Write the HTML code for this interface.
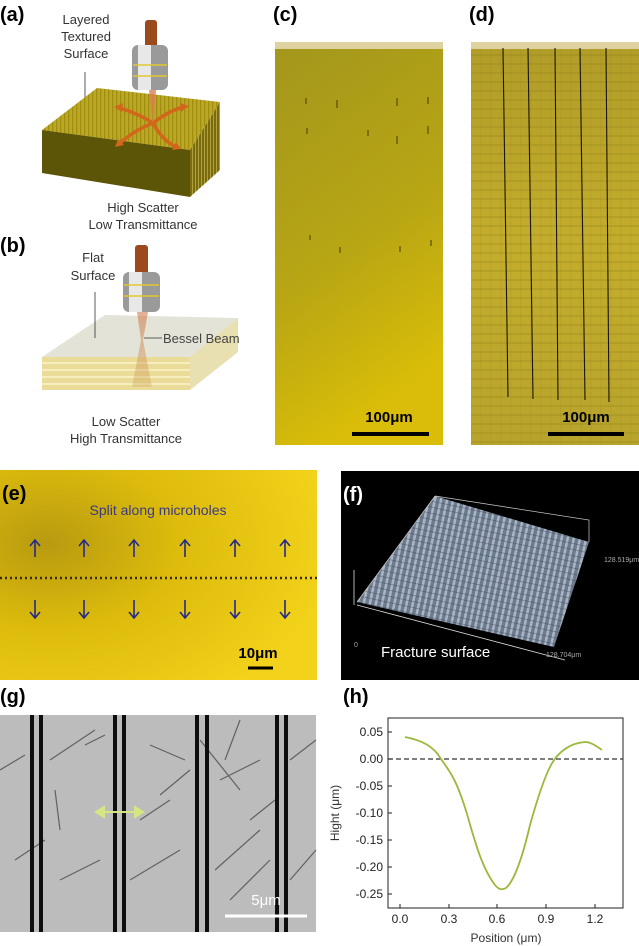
<!DOCTYPE html>
<html><head><meta charset="utf-8"><style>
html,body{margin:0;padding:0;background:#fff;width:639px;height:946px;overflow:hidden}
svg{display:block}
text{font-family:"Liberation Sans",Arial,sans-serif}
</style></head><body>
<svg width="639" height="946" viewBox="0 0 639 946" xmlns="http://www.w3.org/2000/svg">
<defs>
<linearGradient id="cg" x1="0" y1="0" x2="0.3" y2="1"><stop offset="0" stop-color="#a3961c"/><stop offset="0.6" stop-color="#b8a614"/><stop offset="1" stop-color="#d9bd08"/></linearGradient>
<linearGradient id="dg" x1="0" y1="0" x2="0" y2="1"><stop offset="0" stop-color="#b09c28"/><stop offset="0.5" stop-color="#c4ad2c"/><stop offset="1" stop-color="#b8a42c"/></linearGradient>
<pattern id="dstripe" width="10" height="9" patternUnits="userSpaceOnUse"><rect width="10" height="9" fill="none"/><rect y="0" width="10" height="2" fill="#8a7a10" opacity="0.22"/><rect x="0" width="1.5" height="9" fill="#8a7a10" opacity="0.1"/></pattern>
<radialGradient id="eg" cx="0.15" cy="0.35" r="0.9"><stop offset="0" stop-color="#b89a10"/><stop offset="0.45" stop-color="#dcbb0c"/><stop offset="1" stop-color="#f2d21a"/></radialGradient>
<pattern id="fstripe" width="6" height="6" patternUnits="userSpaceOnUse" patternTransform="rotate(12)"><rect width="6" height="6" fill="#6d7b8f"/><rect width="2.5" height="6" fill="#aab6c6"/><rect y="4" width="6" height="0.8" fill="#3c4450" opacity="0.5"/></pattern>
<pattern id="astripe" width="4" height="4" patternUnits="userSpaceOnUse"><rect width="4" height="4" fill="#bda824"/><rect width="1.3" height="4" fill="#a08e12"/></pattern>
<pattern id="rstripe" width="3" height="4" patternUnits="userSpaceOnUse"><rect width="3" height="4" fill="#7a6c0c"/><rect width="1" height="4" fill="#b0a040"/></pattern>
<linearGradient id="beam" x1="0" y1="0" x2="0" y2="1"><stop offset="0" stop-color="#d07850"/><stop offset="1" stop-color="#c89a50" stop-opacity="0.5"/></linearGradient>
</defs>

<!-- (a) -->
<text x="0" y="21" font-size="20" font-weight="bold">(a)</text>
<text x="86" y="24" font-size="13" text-anchor="middle" fill="#333">Layered</text>
<text x="86" y="41" font-size="13" text-anchor="middle" fill="#333">Textured</text>
<text x="86" y="58" font-size="13" text-anchor="middle" fill="#333">Surface</text>
<line x1="85" y1="72" x2="85" y2="112" stroke="#333" stroke-width="0.8"/>
<polygon points="42,130 97,88 220,102 190,150" fill="url(#astripe)"/>
<polygon points="42,130 190,150 190,197 42,173" fill="#5c5406"/>
<polygon points="190,150 220,102 220,170 190,197" fill="url(#rstripe)"/>
<path d="M153,123 Q135,112 119,108 M153,123 Q170,110 184,107 M153,123 Q135,130 120,143 M153,123 Q162,140 176,147" stroke="#d2661a" stroke-width="3.5" fill="none"/>
<polygon points="114,107 123,103 122,112" fill="#d2661a"/><polygon points="189,106 180,103 181,112" fill="#d2661a"/>
<polygon points="115,147 118,139 124,145" fill="#d2661a"/><polygon points="181,149 172,150 176,142" fill="#d2661a"/>
<polygon points="149,90 156,90 153,125" fill="#d88050" opacity="0.8"/>
<rect x="145" y="20" width="12" height="35" fill="#9a4a1c" rx="3"/>
<rect x="132" y="45" width="36" height="45" rx="6" fill="#9a9a9a"/>
<rect x="138" y="45" width="13" height="45" fill="#e8e8e8"/>
<line x1="133" y1="65" x2="167" y2="65" stroke="#e2c830" stroke-width="1.5"/>
<line x1="133" y1="76" x2="167" y2="76" stroke="#e2c830" stroke-width="1.5"/>
<text x="143" y="212" font-size="13" text-anchor="middle" fill="#333">High Scatter</text>
<text x="143" y="229" font-size="13" text-anchor="middle" fill="#333">Low Transmittance</text>

<!-- (b) -->
<text x="0" y="252" font-size="20" font-weight="bold">(b)</text>
<text x="93" y="262" font-size="13" text-anchor="middle" fill="#333">Flat</text>
<text x="93" y="280" font-size="13" text-anchor="middle" fill="#333">Surface</text>
<polygon points="42,357 105,315 238,318 190,357" fill="#deded0" opacity="0.85"/>
<polygon points="190,357 238,318 238,352 190,390" fill="#e8e0b0"/>
<rect x="42" y="357" width="148" height="33" fill="#eadc98"/>
<g stroke="#fff8d8" stroke-width="1.2"><line x1="42" y1="363" x2="190" y2="363"/><line x1="42" y1="370" x2="190" y2="370"/><line x1="42" y1="377" x2="190" y2="377"/><line x1="42" y1="384" x2="190" y2="384"/></g>
<line x1="95" y1="292" x2="95" y2="338" stroke="#333" stroke-width="0.8"/>
<polygon points="137,312 148,312 143,340 152,387 132,387 141,340" fill="url(#beam)" opacity="0.6"/>
<line x1="144" y1="338" x2="162" y2="338" stroke="#333" stroke-width="0.8"/>
<text x="163" y="343" font-size="13" fill="#444">Bessel Beam</text>
<rect x="135" y="245" width="13" height="32" fill="#9a4a1c" rx="3"/>
<rect x="123" y="272" width="37" height="40" rx="6" fill="#9a9a9a"/>
<rect x="129" y="272" width="13" height="40" fill="#e8e8e8"/>
<line x1="124" y1="285" x2="159" y2="285" stroke="#e2c830" stroke-width="1.5"/>
<line x1="124" y1="296" x2="159" y2="296" stroke="#e2c830" stroke-width="1.5"/>
<text x="126" y="426" font-size="13" text-anchor="middle" fill="#333">Low Scatter</text>
<text x="126" y="443" font-size="13" text-anchor="middle" fill="#333">High Transmittance</text>

<!-- (c) -->
<text x="273" y="21" font-size="20" font-weight="bold">(c)</text>
<rect x="275" y="42" width="168" height="403" fill="url(#cg)"/>
<rect x="275" y="42" width="168" height="7" fill="#ddd2a0"/>
<g stroke="#5a4e08" stroke-width="1.2">
<line x1="306" y1="98" x2="306" y2="104"/><line x1="337" y1="100" x2="337" y2="108"/><line x1="397" y1="98" x2="397" y2="106"/><line x1="428" y1="97" x2="428" y2="104"/>
<line x1="307" y1="128" x2="307" y2="134"/><line x1="368" y1="130" x2="368" y2="136"/><line x1="397" y1="136" x2="397" y2="144"/><line x1="428" y1="126" x2="428" y2="134"/>
<line x1="310" y1="235" x2="310" y2="240"/><line x1="340" y1="247" x2="340" y2="253"/><line x1="400" y1="246" x2="400" y2="252"/><line x1="431" y1="240" x2="431" y2="246"/>
</g>
<line x1="352" y1="434" x2="429" y2="434" stroke="#000" stroke-width="4"/>
<text x="389" y="422" font-size="15" font-weight="bold" text-anchor="middle">100μm</text>

<!-- (d) -->
<text x="469" y="21" font-size="20" font-weight="bold">(d)</text>
<rect x="471" y="42" width="168" height="403" fill="url(#dg)"/>
<rect x="471" y="50" width="168" height="395" fill="url(#dstripe)"/>
<rect x="471" y="42" width="168" height="7" fill="#ddd2a0"/>
<g stroke="#1a1600" stroke-width="1.1">
<line x1="503" y1="48" x2="508" y2="397"/><line x1="528" y1="48" x2="533" y2="399"/><line x1="555" y1="48" x2="558" y2="400"/><line x1="580" y1="48" x2="585" y2="400"/><line x1="606" y1="48" x2="609" y2="402"/>
</g>
<line x1="548" y1="434" x2="624" y2="434" stroke="#000" stroke-width="4"/>
<text x="586" y="422" font-size="15" font-weight="bold" text-anchor="middle">100μm</text>

<!-- (e) -->
<rect x="0" y="470" width="317" height="210" fill="url(#eg)"/>
<text x="2" y="500" font-size="20" font-weight="bold">(e)</text>
<text x="158" y="515" font-size="14" text-anchor="middle" fill="#3a3a80">Split along microholes</text>
<line x1="0" y1="578" x2="317" y2="578" stroke="#3a2e00" stroke-width="2.5" stroke-dasharray="2,3"/>
<g stroke="#222a90" stroke-width="1.6" fill="none">
<path d="M35,557 V540 M30,546 L35,540 L40,546"/><path d="M84,557 V540 M79,546 L84,540 L89,546"/><path d="M134,557 V540 M129,546 L134,540 L139,546"/><path d="M185,557 V540 M180,546 L185,540 L190,546"/><path d="M235,557 V540 M230,546 L235,540 L240,546"/><path d="M285,557 V540 M280,546 L285,540 L290,546"/>
<path d="M35,600 V618 M30,612 L35,618 L40,612"/><path d="M84,600 V618 M79,612 L84,618 L89,612"/><path d="M134,600 V618 M129,612 L134,618 L139,612"/><path d="M185,600 V618 M180,612 L185,618 L190,612"/><path d="M235,600 V618 M230,612 L235,618 L240,612"/><path d="M285,600 V618 M280,612 L285,618 L290,612"/>
</g>
<text x="258" y="658" font-size="15" font-weight="bold" text-anchor="middle">10μm</text>
<line x1="248" y1="668" x2="273" y2="668" stroke="#000" stroke-width="3"/>

<!-- (f) -->
<rect x="341" y="471" width="298" height="209" fill="#000"/>
<text x="343" y="501" font-size="20" font-weight="bold" fill="#fff">(f)</text>
<polygon points="435,496 589,542 554,647 357,602" fill="url(#fstripe)"/>
<polyline points="435,496 589,520 589,542" fill="none" stroke="#ccc" stroke-width="0.7"/>
<line x1="357" y1="602" x2="435" y2="496" stroke="#ccc" stroke-width="0.7"/>
<line x1="354" y1="605" x2="354" y2="570" stroke="#ddd" stroke-width="0.8"/>
<line x1="357" y1="605" x2="565" y2="660" stroke="#ddd" stroke-width="0.8"/>
<text x="354" y="647" font-size="7" fill="#aaa">0</text>
<text x="604" y="562" font-size="7" fill="#aaa">128.519μm</text>
<text x="546" y="657" font-size="7" fill="#aaa">128.704μm</text>
<text x="381" y="657" font-size="15" fill="#fff">Fracture surface</text>

<!-- (g) -->
<text x="0" y="703" font-size="20" font-weight="bold">(g)</text>
<rect x="0" y="715" width="316" height="217" fill="#bcbcbc"/>
<g stroke="#3a3a3a" stroke-width="1.2" fill="none" opacity="0.7">
<path d="M0,770 L25,755 M50,760 L95,730 M85,745 L105,735 M150,745 L185,760 M160,795 L190,770 M130,880 L180,850 M200,740 L240,790 M220,780 L260,760 M215,870 L260,830 M230,900 L270,860 M290,760 L316,740 M250,820 L275,800 M60,880 L100,860 M15,860 L45,840 M140,820 L170,800 M290,880 L316,850 M55,790 L60,830 M225,760 L240,720"/>
</g>
<g fill="#0e0e0e">
<rect x="30" y="715" width="4" height="217"/><rect x="39" y="715" width="4" height="217"/>
<rect x="113" y="715" width="4" height="217"/><rect x="122" y="715" width="4" height="217"/>
<rect x="195" y="715" width="4" height="217"/><rect x="205" y="715" width="4" height="217"/>
<rect x="275" y="715" width="4" height="217"/><rect x="284" y="715" width="4" height="217"/>
</g>
<g stroke="#d6e680" stroke-width="2" fill="#d6e680">
<line x1="100" y1="812" x2="139" y2="812"/><polygon points="96,812 104,807 104,817"/><polygon points="143,812 135,807 135,817"/>
</g>
<line x1="225" y1="916" x2="307" y2="916" stroke="#fff" stroke-width="3"/>
<text x="266" y="905" font-size="15" fill="#fff" text-anchor="middle">5μm</text>

<!-- (h) -->
<text x="343" y="703" font-size="20" font-weight="bold">(h)</text>
<rect x="388" y="718" width="235" height="190" fill="none" stroke="#222" stroke-width="1"/>
<line x1="388" y1="759" x2="623" y2="759" stroke="#333" stroke-width="1.2" stroke-dasharray="5,3"/>
<g stroke="#222" stroke-width="1">
<line x1="388" y1="732" x2="392" y2="732"/><line x1="388" y1="759" x2="392" y2="759"/><line x1="388" y1="786" x2="392" y2="786"/><line x1="388" y1="813" x2="392" y2="813"/><line x1="388" y1="840" x2="392" y2="840"/><line x1="388" y1="867" x2="392" y2="867"/><line x1="388" y1="894" x2="392" y2="894"/>
<line x1="400" y1="908" x2="400" y2="904"/><line x1="449" y1="908" x2="449" y2="904"/><line x1="497" y1="908" x2="497" y2="904"/><line x1="546" y1="908" x2="546" y2="904"/><line x1="595" y1="908" x2="595" y2="904"/>
</g>
<g font-size="12" fill="#222" text-anchor="end">
<text x="383" y="736">0.05</text><text x="383" y="763">0.00</text><text x="383" y="790">-0.05</text><text x="383" y="817">-0.10</text><text x="383" y="844">-0.15</text><text x="383" y="871">-0.20</text><text x="383" y="898">-0.25</text>
</g>
<g font-size="12" fill="#222" text-anchor="middle">
<text x="400" y="923">0.0</text><text x="449" y="923">0.3</text><text x="497" y="923">0.6</text><text x="546" y="923">0.9</text><text x="595" y="923">1.2</text>
</g>
<text x="506" y="942" font-size="12" fill="#333" text-anchor="middle">Position (μm)</text>
<text x="0" y="0" font-size="12" fill="#333" text-anchor="middle" transform="translate(339,813) rotate(-90)">Hight (μm)</text>
<path d="M405,737 C420,740 433,745 441,759 C450,772 456,778 467,814 C475,842 482,868 495,885 C499,890 502,890 506,888 C515,880 523,855 530,825 C537,800 544,778 551,765 C558,752 570,743 585,742 C590,742 595,745 602,750" fill="none" stroke="#9ab83a" stroke-width="1.8"/>
</svg>
</body></html>
